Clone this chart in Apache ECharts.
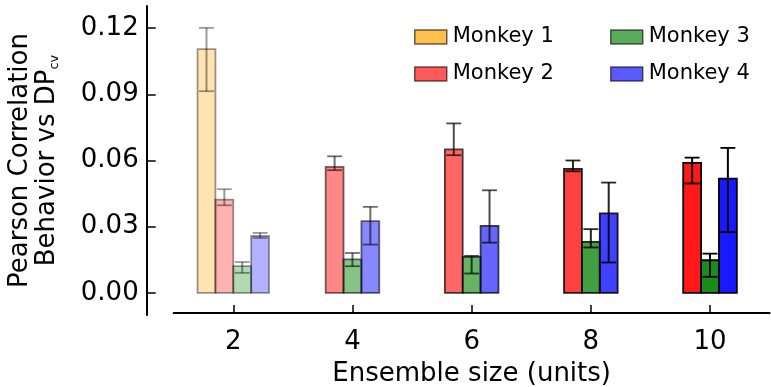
<!DOCTYPE html>
<html>
<head>
<meta charset="utf-8">
<script src="https://cdn.jsdelivr.net/npm/echarts@6/dist/echarts.min.js"></script>
<style>html,body{margin:0;padding:0;background:#fff}#c{width:771px;height:387px}</style>
</head>
<body>
<div id="c"></div>
<script>
// ---- data ----
const sizes = [2, 4, 6, 8, 10];
const sizeLabels = ['2', '4', '6', '8', '10'];
const yTicks = [0, 0.03, 0.06, 0.09, 0.12];
const monkeyNames = ['Monkey 1', 'Monkey 2', 'Monkey 3', 'Monkey 4'];

const monkey1 = [0.1105, null, null, null, null];
const monkey1Lo = [0.0914, null, null, null, null];
const monkey1Hi = [0.1201, null, null, null, null];

const monkey2 = [0.0423, 0.0571, 0.0650, 0.0562, 0.0589];
const monkey2Lo = [0.0397, 0.0556, 0.0624, 0.0551, 0.0496];
const monkey2Hi = [0.0470, 0.0619, 0.0768, 0.0600, 0.0613];

const monkey3 = [0.0121, 0.0152, 0.0163, 0.0231, 0.0148];
const monkey3Lo = [0.0091, 0.0121, 0.0088, 0.0206, 0.0073];
const monkey3Hi = [0.0140, 0.0181, 0.0168, 0.0289, 0.0178];

const monkey4 = [0.0258, 0.0325, 0.0304, 0.0360, 0.0518];
const monkey4Lo = [0.0249, 0.0219, 0.0228, 0.0138, 0.0276];
const monkey4Hi = [0.0272, 0.0390, 0.0465, 0.0500, 0.0657];

// ---- styles ----
const baseRGB = [[255,165,0],[255,0,0],[0,128,0],[0,0,255]];
const groupAlpha = [0.3, 0.47, 0.6, 0.75, 0.9];
const legendFill = ['#FFC04D', '#FF5959', '#59AC59', '#5959FF'];
const FONT = 'DejaVu Sans';
const BAR_W = 0.3;   // bar width in x units
const CAP_W = 0.25;  // errorbar cap width in x units

const vals = [monkey1, monkey2, monkey3, monkey4];
const los = [monkey1Lo, monkey2Lo, monkey3Lo, monkey4Lo];
const his = [monkey1Hi, monkey2Hi, monkey3Hi, monkey4Hi];

function rgba(c, a) { return 'rgba(' + c[0] + ',' + c[1] + ',' + c[2] + ',' + a + ')'; }

function makeRender(mi) {
  return function (params, api) {
    const gi = api.value(4);
    const size = api.value(0);
    const v = api.value(1), lo = api.value(2), hi = api.value(3);
    const present = [];
    for (let m = 0; m < vals.length; m++) if (vals[m][gi] != null) present.push(m);
    const n = present.length, k = present.indexOf(mi);
    const off = (k - n / 2 + 0.5) * BAR_W;
    const c0 = api.coord([size + off, 0]);
    const cv = api.coord([size + off, v]);
    const cLo = api.coord([size + off, lo]);
    const cHi = api.coord([size + off, hi]);
    const w = api.size([BAR_W, 0])[0];
    const cw = api.size([CAP_W, 0])[0];
    const a = groupAlpha[gi];
    const ea = Math.min(1, a + 0.1);
    return {
      type: 'group',
      children: [
        { type: 'rect', shape: { x: c0[0] - w / 2, y: cv[1], width: w, height: c0[1] - cv[1] },
          style: { fill: rgba(baseRGB[mi], a), stroke: rgba([0,0,0], ea), lineWidth: 1.8 } },
        { type: 'line', shape: { x1: cLo[0], y1: cLo[1], x2: cHi[0], y2: cHi[1] },
          style: { stroke: rgba([0,0,0], ea), lineWidth: 2 } },
        { type: 'line', shape: { x1: cHi[0] - cw / 2, y1: cHi[1], x2: cHi[0] + cw / 2, y2: cHi[1] },
          style: { stroke: rgba([0,0,0], ea), lineWidth: 1.8 } },
        { type: 'line', shape: { x1: cLo[0] - cw / 2, y1: cLo[1], x2: cLo[0] + cw / 2, y2: cLo[1] },
          style: { stroke: rgba([0,0,0], ea), lineWidth: 1.8 } }
      ]
    };
  };
}

const series = monkeyNames.map((name, mi) => ({
  name: name,
  type: 'custom',
  clip: false,
  renderItem: makeRender(mi),
  itemStyle: { color: legendFill[mi] },
  encode: { x: 0, y: 1 },
  data: sizes.map((s, i) => [s, vals[mi][i], los[mi][i], his[mi][i], i]).filter(d => d[1] != null),
  z: 2 + mi
}));

function legendItem(mi) {
  return { name: monkeyNames[mi], icon: 'rect',
    itemStyle: { color: legendFill[mi], borderColor: 'rgba(0,0,0,0.6)', borderWidth: 1.5 } };
}
const legendCommon = {
  orient: 'vertical', itemWidth: 32, itemHeight: 14, itemGap: 13, top: 20,
  selectedMode: false,
  textStyle: { fontFamily: FONT, fontSize: 21, color: '#000', lineHeight: 24, padding: [0, 0, 0, 1] }
};

const chart = echarts.init(document.getElementById('c'), null, { renderer: 'canvas' });
chart.setOption({
  animation: false,
  backgroundColor: '#fff',
  grid: { left: 173.7, right: 1.4, top: 6, bottom: 72, containLabel: false, outerBoundsMode: 'none' },
  legend: [
    Object.assign({}, legendCommon, { left: 409, data: [legendItem(0), legendItem(1)] }),
    Object.assign({}, legendCommon, { left: 605, data: [legendItem(2), legendItem(3)] })
  ],
  xAxis: {
    type: 'value', min: 1, max: 11, offset: -2,
    name: 'Ensemble size (units)', nameLocation: 'middle', nameGap: 48,
    nameTextStyle: { fontFamily: FONT, fontSize: 26, color: '#000' },
    axisLine: { show: true, onZero: false, lineStyle: { color: '#000', width: 2 } },
    axisTick: { show: true, inside: true, length: 8, customValues: sizes, lineStyle: { color: '#000', width: 1.5 } },
    axisLabel: { customValues: sizes, fontFamily: FONT, fontSize: 26, color: '#000', margin: 16,
      formatter: v => sizeLabels[sizes.indexOf(v)] },
    splitLine: { show: false }
  },
  yAxis: {
    type: 'value', min: -0.01, max: 0.13, offset: 27,
    name: 'Pearson Correlation\nBehavior vs DP{sub|cv}', nameLocation: 'middle', nameRotate: 90, nameGap: 86,
    nameTextStyle: { fontFamily: FONT, fontSize: 26, color: '#000', lineHeight: 27,
      rich: { sub: { fontFamily: FONT, fontSize: 13, color: '#000', verticalAlign: 'bottom', lineHeight: 27 } } },
    axisLine: { show: true, onZero: false, lineStyle: { color: '#000', width: 2 } },
    axisTick: { show: true, inside: true, length: 9, customValues: yTicks, lineStyle: { color: '#000', width: 1.5 } },
    axisLabel: { customValues: yTicks, fontFamily: FONT, fontSize: 26, color: '#000', margin: 8,
      formatter: v => v.toFixed(2) },
    splitLine: { show: false }
  },
  series: series
});
</script>
</body>
</html>
